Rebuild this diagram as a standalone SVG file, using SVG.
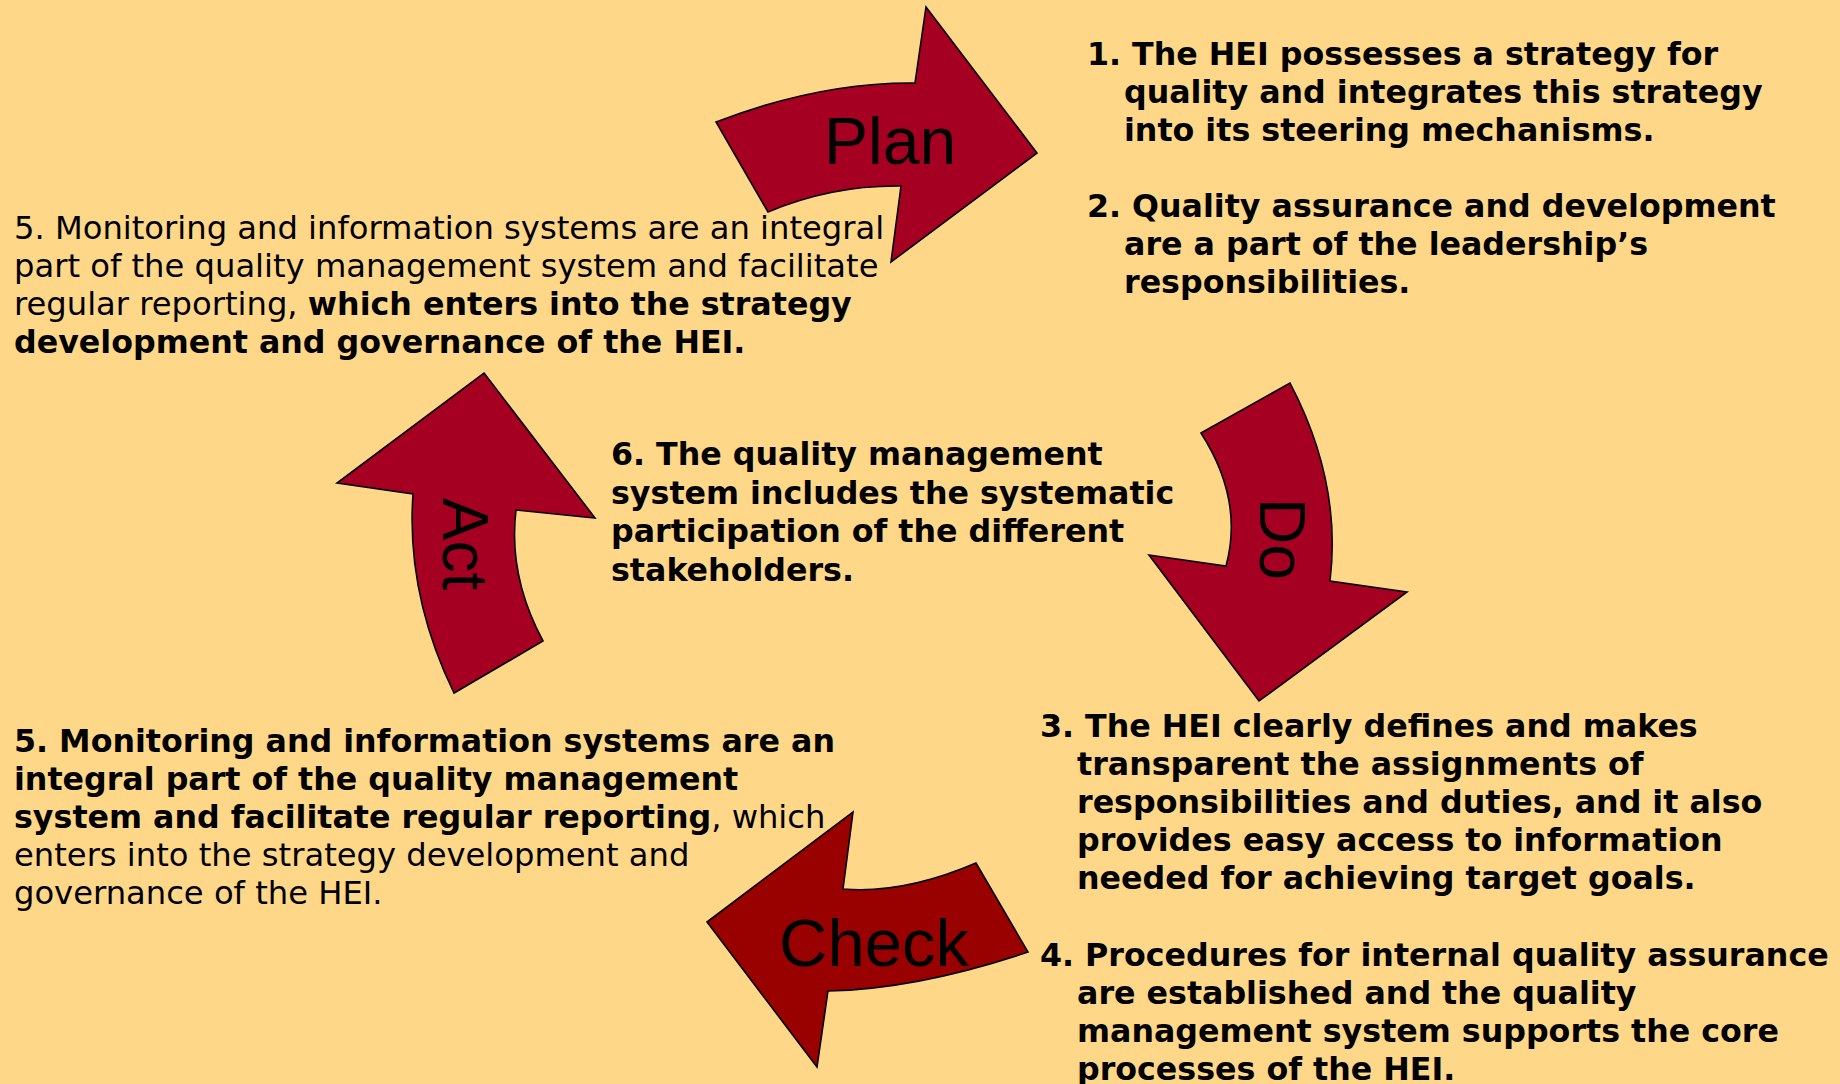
<svg xmlns="http://www.w3.org/2000/svg" width="1840" height="1084" viewBox="0 0 1840 1084">
<style>
.bg{fill:#FFD789}
.arr{fill:#A50021;stroke:#000;stroke-width:1.6;stroke-linejoin:miter}
.arr2{fill:#990000;stroke:#000;stroke-width:1.6;stroke-linejoin:miter}
.lbl{font-family:"Liberation Sans",Arial,sans-serif;font-size:64px;fill:#000}
.t{font-family:"DejaVu Sans",Verdana,sans-serif;font-size:32.2px;fill:#000}
.b{font-weight:bold;font-size:31.7px}
</style>
<rect class="bg" x="0" y="0" width="1840" height="1084"/>
<g id="connectors">
  <g id="plan">
    <path class="arr" d="M716,122 Q820,82 915,83 L926,7 L1037,153 L891,262 L901,186 Q832,185 768,212 Z"/>
    <text class="lbl" x="824" y="164" style="font-size:66px">Plan</text>
  </g>
  <g id="do">
    <path class="arr" d="M1201,433 L1290,383 Q1342,482 1330,581 L1407,592 L1259,701 L1149,555 L1226,566 Q1244,500 1201,433 Z"/>
    <text class="lbl" text-anchor="middle" transform="translate(1260,539) rotate(90)">Do</text>
  </g>
  <g id="check">
    <path class="arr2" d="M707,922 L853,812 L843,889 Q904,894 976,863 L1028,952 Q918,989 828,991 L817,1067 Z"/>
    <text class="lbl" x="779" y="966" style="font-size:67px">Check</text>
  </g>
  <g id="act">
    <path class="arr" d="M484,373 L595,518 L516,510 Q508,576 543,641 L454,693 Q406,594 413,494 L337,483 Z"/>
    <text class="lbl" text-anchor="middle" transform="translate(443,544) rotate(90)">Act</text>
  </g>
</g>
<g id="text-plan">
  <text class="t b">
    <tspan x="1087" y="64.5">1. The HEI possesses a strategy for</tspan>
    <tspan x="1124" y="102.5">quality and integrates this strategy</tspan>
    <tspan x="1124" y="140.5">into its steering mechanisms.</tspan>
    <tspan x="1087" y="216.5">2. Quality assurance and development</tspan>
    <tspan x="1124" y="254.5">are a part of the leadership’s</tspan>
    <tspan x="1124" y="292.5">responsibilities.</tspan>
  </text>
</g>
<g id="text-act-top">
  <text class="t">
    <tspan x="14" y="239">5. Monitoring and information systems are an integral</tspan>
    <tspan x="14" y="277">part of the quality management system and facilitate</tspan>
    <tspan x="14" y="315">regular reporting, <tspan class="b">which enters into the strategy</tspan></tspan>
    <tspan x="14" y="353" class="b">development and governance of the HEI.</tspan>
  </text>
</g>
<g id="text-center">
  <text class="t b">
    <tspan x="611" y="465">6. The quality management</tspan>
    <tspan x="611" y="503.5">system includes the systematic</tspan>
    <tspan x="611" y="542">participation of the different</tspan>
    <tspan x="611" y="580.5">stakeholders.</tspan>
  </text>
</g>
<g id="text-check">
  <text class="t">
    <tspan x="14" y="752" class="b">5. Monitoring and information systems are an</tspan>
    <tspan x="14" y="790" class="b">integral part of the quality management</tspan>
    <tspan x="14" y="828"><tspan class="b">system and facilitate regular reporting</tspan>, which</tspan>
    <tspan x="14" y="866">enters into the strategy development and</tspan>
    <tspan x="14" y="904">governance of the HEI.</tspan>
  </text>
</g>
<g id="text-do">
  <text class="t b">
    <tspan x="1040" y="737">3. The HEI clearly defines and makes</tspan>
    <tspan x="1077" y="775">transparent the assignments of</tspan>
    <tspan x="1077" y="813">responsibilities and duties, and it also</tspan>
    <tspan x="1077" y="851">provides easy access to information</tspan>
    <tspan x="1077" y="889">needed for achieving target goals.</tspan>
    <tspan x="1040" y="966">4. Procedures for internal quality assurance</tspan>
    <tspan x="1077" y="1004">are established and the quality</tspan>
    <tspan x="1077" y="1042">management system supports the core</tspan>
    <tspan x="1077" y="1080">processes of the HEI.</tspan>
  </text>
</g>
</svg>
